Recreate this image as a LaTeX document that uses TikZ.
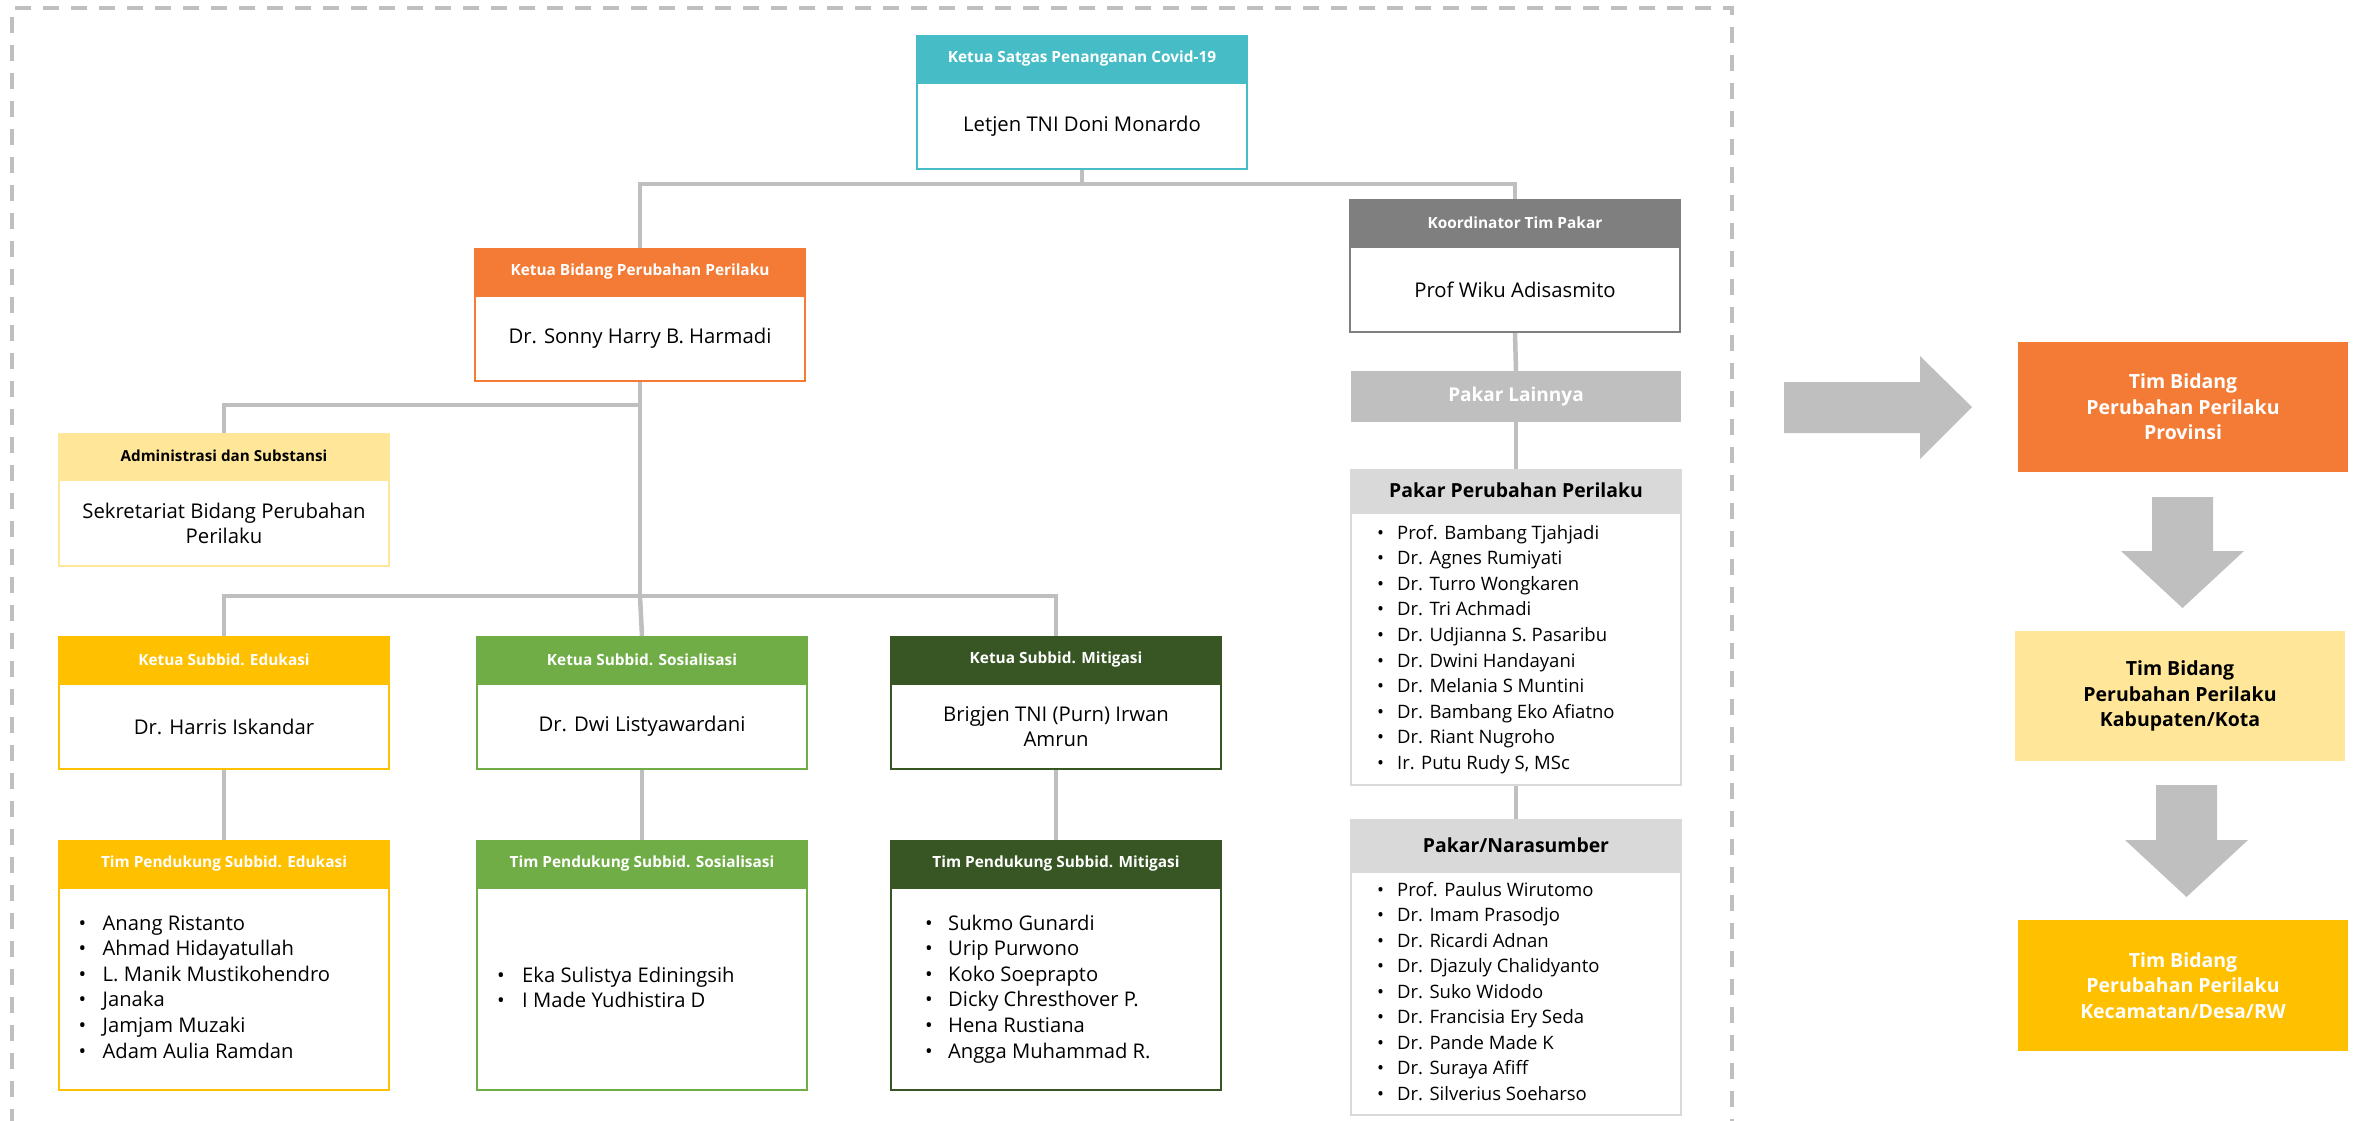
\documentclass[tikz,border=0pt]{standalone}
\usepackage{fontspec}
\setmainfont{Open Sans}
\definecolor{cteal}{HTML}{46BDC6}
\definecolor{corange}{HTML}{F47B36}
\definecolor{cgray}{HTML}{7F7F7F}
\definecolor{cline}{HTML}{BFBFBF}
\definecolor{clight}{HTML}{D9D9D9}
\definecolor{cpale}{HTML}{FFE699}
\definecolor{cgold}{HTML}{FFC000}
\definecolor{cgreen}{HTML}{70AD47}
\definecolor{cdgreen}{HTML}{375623}
\begin{document}
\begin{tikzpicture}[x=1pt,y=-1pt,
  hd/.style={fill=#1, draw=#1, line width=2pt, text=white, font=\fontsize{15.4}{18}\selectfont\bfseries,
    minimum width=330pt, minimum height=45pt, inner sep=0pt, anchor=north},
  bd/.style={draw=#1, fill=white, line width=2pt, font=\fontsize{20.3}{25}\selectfont,
    minimum width=330pt, inner sep=0pt, anchor=north, align=center},
  conn/.style={draw=cline, line width=4.5pt},
  item/.style={anchor=base west, inner sep=0pt, font=\fontsize{18.5}{22}\selectfont},
  itemb/.style={anchor=base west, inner sep=0pt, font=\fontsize{20.2}{22}\selectfont},
  rbox/.style={fill=#1, minimum width=330pt, minimum height=130pt, inner sep=0pt, align=center,
    font=\fontsize{19.5}{25.5}\selectfont\bfseries},
  blockarrow/.style={fill=cline, draw=none}]
\useasboundingbox (0,0) rectangle (2364,1120);

% dashed frame
\draw[cline, line width=4pt, dash pattern=on 16pt off 12pt] (12,1125) -- (12,8) -- (1732,8) -- (1732,1125);

\coordinate (j1) at (1082,184);
\coordinate (j2) at (640,405);
\coordinate (j3) at (640,596);

% ---- top box ----
\node[hd=cteal] (covidh) at (1082,35) {Ketua Satgas Penanganan Covid-19};
\node[bd=cteal, minimum height=86pt] (covid) at (covidh.south) {Letjen TNI Doni Monardo};

% ---- Bidang ----
\node[hd=corange] (bidh) at (640,248) {Ketua Bidang Perubahan Perilaku};
\node[bd=corange, minimum height=85pt] (bid) at (bidh.south) {Dr. Sonny Harry B. Harmadi};

% ---- Koordinator ----
\node[hd=cgray] (koorh) at (1515,199) {Koordinator Tim Pakar};
\node[bd=cgray, minimum height=85pt] (koor) at (koorh.south) {Prof Wiku Adisasmito};

% ---- Pakar Lainnya ----
\node[fill=cline, minimum width=330pt, minimum height=51pt, anchor=north, text=white,
  font=\fontsize{19}{22}\selectfont\bfseries] (lain) at (1516,371) {Pakar Lainnya};

% ---- Pakar Perubahan Perilaku ----
\node[hd=clight, text=black, font=\fontsize{19.4}{22}\selectfont\bfseries, minimum height=41pt] (pph) at (1516,469) {Pakar Perubahan Perilaku};
\node[bd=clight, minimum height=272pt] (pp) at (pph.south) {};

% ---- Pakar/Narasumber ----
\node[hd=clight, text=black, font=\fontsize{19.4}{22}\selectfont\bfseries, minimum height=50pt] (nsh) at (1516,819) {Pakar/Narasumber};
\node[bd=clight, minimum height=243pt] (ns) at (nsh.south) {};

% ---- Admin ----
\node[hd=cpale, text=black, font=\fontsize{15.2}{18}\selectfont\bfseries, minimum height=44pt] (admh) at (224,433) {Administrasi dan Substansi};
\node[bd=cpale, minimum height=86pt] (adm) at (admh.south) {Sekretariat Bidang Perubahan\\Perilaku};

% ---- Ketua Subbid ----
\node[hd=cgold] (eduh) at (224,636) {Ketua Subbid. Edukasi};
\node[bd=cgold, minimum height=85pt] (edu) at (eduh.south) {Dr. Harris Iskandar};
\node[hd=cgreen] (sosh) at (642,636) {Ketua Subbid. Sosialisasi};
\node[bd=cgreen, minimum height=85pt] (sos) at (sosh.south) {Dr. Dwi Listyawardani};
\node[hd=cdgreen] (mith) at (1056,636) {Ketua Subbid. Mitigasi};
\node[bd=cdgreen, minimum height=85pt] (mit) at (mith.south) {Brigjen TNI (Purn) Irwan\\Amrun};

% ---- Tim Pendukung ----
\node[hd=cgold] (tedh) at (224,840) {Tim Pendukung Subbid. Edukasi};
\node[bd=cgold, minimum height=202pt] (ted) at (tedh.south) {};
\node[hd=cgreen] (tsoh) at (642,840) {Tim Pendukung Subbid. Sosialisasi};
\node[bd=cgreen, minimum height=202pt] (tso) at (tsoh.south) {};
\node[hd=cdgreen] (tmih) at (1056,840) {Tim Pendukung Subbid. Mitigasi};
\node[bd=cdgreen, minimum height=202pt] (tmi) at (tmih.south) {};

% ---- connectors ----
\path[conn] (covid.south) -- (j1) -| (bidh.north);
\path[conn] (j1) -| (koorh.north);
\path[conn] (bid.south) -- (j3);
\path[conn] (j2) -| (admh.north);
\path[conn] (j3) -| (eduh.north);
\path[conn] (j3) -| (mith.north);
\path[conn] (j3) -- (sosh.north);
\path[conn] (edu.south) -- (tedh.north);
\path[conn] (sos.south) -- (tsoh.north);
\path[conn] (mit.south) -- (tmih.north);
\path[conn] (koor.south) -- (lain.north);
\path[conn] (lain.south) -- (pph.north);
\path[conn] (pp.south) -- (nsh.north);

% ---- lists ----
\foreach \t [count=\i from 0] in {Anang Ristanto, Ahmad Hidayatullah, L. Manik Mustikohendro, Janaka, Jamjam Muzaki, Adam Aulia Ramdan}
  \node[itemb] (edul\i) at ({78.5},{930+25.6*\i}) {\makebox[24pt][l]{\textbullet}\t};
\foreach \t [count=\i from 0] in {Eka Sulistya Ediningsih, I Made Yudhistira D}
  \node[itemb] (sosl\i) at ({497},{982+25.3*\i}) {\makebox[25pt][l]{\textbullet}\t};
\foreach \t [count=\i from 0] in {Sukmo Gunardi, Urip Purwono, Koko Soeprapto, Dicky Chresthover P., Hena Rustiana, Angga Muhammad R.}
  \node[itemb] (mitl\i) at ({925},{930+25.6*\i}) {\makebox[23pt][l]{\textbullet}\t};
\foreach \t [count=\i from 0] in {Prof. Bambang Tjahjadi, Dr. Agnes Rumiyati, Dr. Turro Wongkaren, Dr. Tri Achmadi, Dr. Udjianna S. Pasaribu, Dr. Dwini Handayani, Dr. Melania S Muntini, Dr. Bambang Eko Afiatno, Dr. Riant Nugroho, {Ir. Putu Rudy S, MSc}}
  \node[item] (ppl\i) at ({1377},{539+25.6*\i}) {\makebox[20pt][l]{\textbullet}\t};
\foreach \t [count=\i from 0] in {Prof. Paulus Wirutomo, Dr. Imam Prasodjo, Dr. Ricardi Adnan, Dr. Djazuly Chalidyanto, Dr. Suko Widodo, Dr. Francisia Ery Seda, Dr. Pande Made K, Dr. Suraya Afiff, Dr. Silverius Soeharso}
  \node[item] (nsl\i) at ({1377},{896+25.5*\i}) {\makebox[20pt][l]{\textbullet}\t};

% ---- right side ----
\node[rbox=corange, text=white] (prov) at (2183,407) {Tim Bidang\\Perubahan Perilaku\\Provinsi};
\node[rbox=cpale, text=black] (kab) at (2180,696) {Tim Bidang\\Perubahan Perilaku\\Kabupaten/Kota};
\node[rbox=cgold, text=white, minimum height=131pt] (kec) at (2183,985.5) {Tim Bidang\\Perubahan Perilaku\\Kecamatan/Desa/RW};

\fill[blockarrow] (1784,382) -- (1920,382) -- (1920,356) -- (1972,407) -- (1920,459) -- (1920,433) -- (1784,433) -- cycle;
\fill[blockarrow] (2152,497) -- (2213,497) -- (2213,551) -- (2244,551) -- (2182.5,608) -- (2121,551) -- (2152,551) -- cycle;
\fill[blockarrow] (2156,785) -- (2217,785) -- (2217,840) -- (2248,840) -- (2186.5,897) -- (2125,840) -- (2156,840) -- cycle;
\end{tikzpicture}
\end{document}
